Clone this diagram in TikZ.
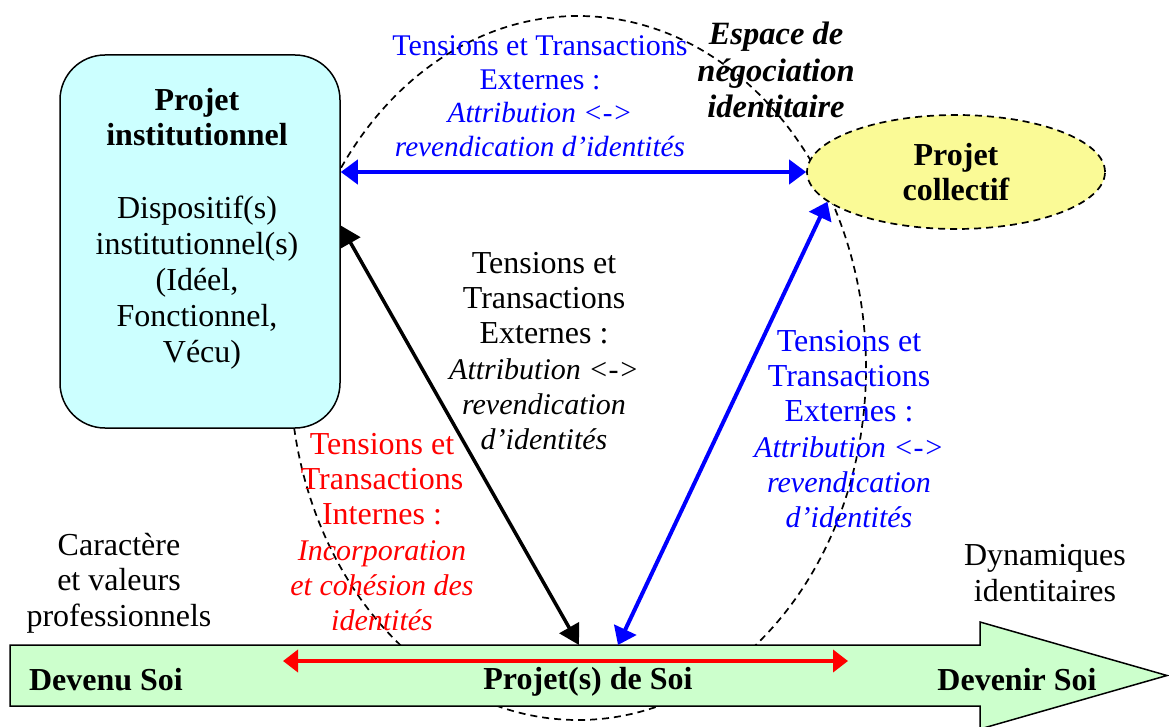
\documentclass[tikz,border=0pt]{standalone}
\usepackage{fontspec}
\setmainfont{Liberation Serif}
\usetikzlibrary{arrows.meta,shapes.geometric,calc}
\definecolor{boxcyan}{RGB}{204,255,255}
\definecolor{collyellow}{RGB}{250,250,150}
\definecolor{arrowgreen}{RGB}{204,255,204}
\newcommand\bigfs{\fontsize{32}{35.3}\selectfont}
\newcommand\topfs{\fontsize{30}{33.5}\selectfont}
\newcommand\itA[1]{{\fontsize{30}{35.3}\selectfont\itshape #1}}
\newcommand\itT[1]{{\fontsize{29.2}{33.5}\selectfont\itshape #1}}
\begin{document}
\begin{tikzpicture}[x=1pt,y=-1pt,
  dashline/.style={draw=black, line width=1.7pt, dash pattern=on 7pt off 5pt},
  txt/.style={align=center, font=\bigfs, inner sep=0pt},
  bluearrow/.style={draw=blue, line width=4pt, {Triangle[length=17pt,width=24pt]}-{Triangle[length=17pt,width=24pt]}},
  blackarrow/.style={draw=black, line width=3.5pt, {Triangle[length=20pt,width=22pt]}-{Triangle[length=20pt,width=22pt]}},
  redarrow/.style={draw=red, line width=4.5pt, {Triangle[length=15pt,width=22pt]}-{Triangle[length=15pt,width=22pt]}}
]
\useasboundingbox (0,0) rectangle (1169,727);
\fill[white] (0,0) rectangle (1169,727);

% big dashed negotiation space
\draw[dashline] (578,368) ellipse [x radius=288pt, y radius=352pt];

% institutional project box
\node[draw, line width=1.5pt, fill=boxcyan, rounded corners=45pt,
      minimum width=280pt, minimum height=373pt, inner sep=0pt] (inst) at (200,241.5) {};
\node[txt, font=\fontsize{32}{35}\selectfont\bfseries] (insttitle) at (197,117) {Projet\\institutionnel};
\node[txt, font=\fontsize{32}{36}\selectfont] (instbody) at (197,283)
  {Dispositif(s)\\institutionnel(s)\\(Idéel,\\Fonctionnel,\\\hspace*{10pt}Vécu)};

% collective project ellipse
\node[ellipse, dashline, fill=collyellow, minimum width=298pt, minimum height=114pt,
      inner sep=0pt, align=center, font=\fontsize{32}{35}\selectfont\bfseries] (coll) at (956,172) {Projet\\collectif};

% big green arrow
\path[draw=black, line width=1.5pt, fill=arrowgreen]
  (10,645) -- (980,645) -- (980,622) -- (1167,675.5) -- (980,729) -- (980,706) -- (10,706) -- cycle;
\coordinate (selfA) at (579,645);
\coordinate (selfB) at (618,645);
\coordinate (redL) at (283,661);
\coordinate (redR) at (848,661);

\node[txt, font=\fontsize{32}{35}\selectfont\bfseries] (devenu) at (106,680) {Devenu Soi};
\node[txt, font=\fontsize{32}{35}\selectfont\bfseries] (projself) at (588,682) {Projet(s) de Soi};
\node[txt, font=\fontsize{32}{35}\selectfont\bfseries] (devenir) at (1017,680) {Devenir Soi};

% connectors
\draw[bluearrow] (inst.east |- coll.west) -- (coll.west);
\draw[blackarrow] ([yshift=16pt]inst.east) -- (selfA);
\draw[bluearrow] (coll.193) -- (selfB);
\draw[redarrow] (redL) -- (redR);

% labels
\node[txt, font=\topfs, text=blue] (topblue) at (540,96)
  {Tensions et Transactions\\Externes :\\\itT{Attribution <->}\\\itT{revendication d’identités}};
\node[txt, font=\fontsize{32.5}{36.5}\selectfont\bfseries\itshape] (espace) at (776,70)
  {Espace de\\négociation\\identitaire};
\node[txt, text=black] (midblack) at (544,351)
  {Tensions et\\Transactions\\Externes :\\\itA{Attribution <->}\\\itA{revendication}\\\itA{d’identités}};
\node[txt, text=blue] (rightblue) at (849,429)
  {Tensions et\\Transactions\\Externes :\\\itA{Attribution <->}\\\itA{revendication}\\\itA{d’identités}};
\node[txt, text=red] (redint) at (382,532)
  {Tensions et\\Transactions\\Internes :\\\itA{Incorporation}\\\itA{et cohésion des}\\\itA{identités}};
\node[txt] (caract) at (119,583) {Caractère\\et valeurs\\professionnels};
\node[txt] (dynam) at (1045,573) {Dynamiques\\identitaires};
\end{tikzpicture}
\end{document}
